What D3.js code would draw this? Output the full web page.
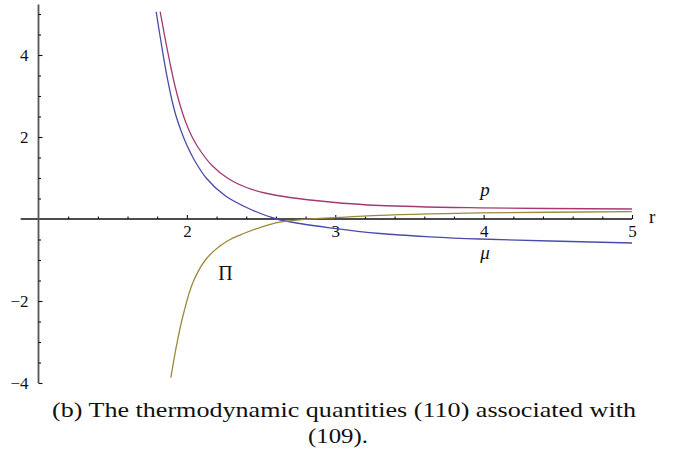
<!DOCTYPE html>
<html>
<head>
<meta charset="utf-8">
<script src="https://cdn.jsdelivr.net/npm/d3@7"></script>
<style>
  html, body { margin: 0; padding: 0; background: #fff; }
  svg { display: block; }
</style>
</head>
<body>
<svg id="chart" width="676" height="455"></svg>
<script>
// Radius samples and values of the three thermodynamic quantities
const rMu = [1.793, 1.818, 1.845, 1.872, 1.899, 1.926, 1.960, 1.998, 2.054, 2.133, 2.256, 2.424, 2.606, 2.761, 2.963, 3.300, 3.636, 3.973, 5.000];
const muVals = [5.056, 4.488, 3.902, 3.366, 2.902, 2.524, 2.159, 1.817, 1.415, 0.988, 0.573, 0.244, 0.000, -0.110, -0.215, -0.354, -0.434, -0.488, -0.585];

const rP = [1.820, 1.852, 1.886, 1.919, 1.953, 1.993, 2.034, 2.076, 2.166, 2.278, 2.402, 2.525, 2.694, 2.963, 3.300, 3.973, 5.000];
const pVals = [5.056, 4.427, 3.805, 3.256, 2.793, 2.354, 2.012, 1.744, 1.317, 0.988, 0.768, 0.634, 0.524, 0.415, 0.329, 0.273, 0.244];

const rPi = [1.892, 1.931, 1.975, 2.042, 2.133, 2.267, 2.391, 2.492, 2.626, 2.761, 3.030, 3.300, 3.636, 3.973, 5.000];
const piVals = [-3.871, -3.073, -2.341, -1.537, -0.963, -0.549, -0.341, -0.210, -0.078, -0.020, 0.039, 0.088, 0.124, 0.149, 0.178];

// Axis ticks
const xMajorTicks = [2, 3, 4, 5];
const xMinorTicks = d3.range(1.2, 5.0, 0.2).filter(v => Math.abs(v - Math.round(v)) > 1e-6);
const yMajorTicks = [-4, -2, 2, 4];
const yMinorTicks = d3.range(-3.5, 5.01, 0.5).filter(v => v % 2 !== 0);

const captionLines = ["(b) The thermodynamic quantities (110) associated with", "(109)."];

const SERIF = "Liberation Serif";

const svg = d3.select("#chart");

const x = d3.scaleLinear().domain([1, 5]).range([38.5, 632]);
const y = d3.scaleLinear().domain([-4, 5]).range([383, 14]);

// Axis lines
svg.append("line")
  .attr("x1", x(0.88)).attr("x2", x(5))
  .attr("y1", y(0)).attr("y2", y(0))
  .attr("stroke", "#111").attr("stroke-width", 1.4);
svg.append("line")
  .attr("x1", x(1)).attr("x2", x(1))
  .attr("y1", y(-4)).attr("y2", y(5.23))
  .attr("stroke", "#555").attr("stroke-width", 1.8);

function styleAxis(g) {
  g.select(".domain").remove();
  g.attr("font-family", SERIF).attr("font-size", 17);
  g.selectAll(".tick line").attr("stroke", "#111").attr("stroke-width", 1.1);
  g.selectAll(".tick text").attr("fill", "#111");
}

// X axis ticks (pointing up into the plot)
const xAxisMajor = d3.axisBottom(x).tickValues(xMajorTicks).tickSize(-4).tickPadding(6).tickFormat(d3.format("d"));
const xAxisMinor = d3.axisBottom(x).tickValues(xMinorTicks).tickSize(-2.5).tickFormat("");
svg.append("g").attr("transform", `translate(0,${y(0)})`).call(xAxisMinor).call(styleAxis);
svg.append("g").attr("transform", `translate(0,${y(0)})`).call(xAxisMajor).call(styleAxis);

// Y axis ticks (pointing right into the plot)
const yAxisMajor = d3.axisLeft(y).tickValues(yMajorTicks).tickSize(-4).tickPadding(10).tickFormat(d3.format("d"));
const yAxisMinor = d3.axisLeft(y).tickValues(yMinorTicks).tickSize(-2.5).tickFormat("");
svg.append("g").attr("transform", `translate(${x(1)},0)`).call(yAxisMinor).call(styleAxis);
svg.append("g").attr("transform", `translate(${x(1)},0)`).call(yAxisMajor).call(styleAxis);

function label(xp, yp, txt, size, italic, anchor) {
  return svg.append("text")
    .attr("x", xp).attr("y", yp)
    .attr("text-anchor", anchor || "start")
    .attr("fill", "#111")
    .attr("font-family", SERIF)
    .attr("font-size", size)
    .attr("font-style", italic ? "italic" : "normal")
    .text(txt);
}

// Axis name
label(x(5) + 17, y(0) + 4, "r", 19, false);

// Curves
svg.append("clipPath").attr("id", "plotclip")
  .append("rect").attr("x", x(1)).attr("y", y(5.07)).attr("width", x(5) - x(1) + 2).attr("height", y(-4) - y(5.07));

const series = [
  { r: rMu, v: muVals, color: "#4b4bad" },
  { r: rP, v: pVals, color: "#a33a72" },
  { r: rPi, v: piVals, color: "#9b8a3a" }
];

const line = d3.line().curve(d3.curveCatmullRom.alpha(0.5));
series.forEach(s => {
  svg.append("path")
    .attr("clip-path", "url(#plotclip)")
    .attr("d", line(s.r.map((r, i) => [x(r), y(s.v[i])])))
    .attr("fill", "none")
    .attr("stroke", s.color)
    .attr("stroke-width", 1.3);
});

// Curve labels
label(x(4.01), y(0.56), "p", 19, true, "middle");
label(x(4.01), y(-0.98), "μ", 19, true, "middle");
label(x(2.26), y(-1.48), "Π", 20, false, "middle");

// Caption
label(52, 417, captionLines[0], 21, false)
  .attr("textLength", 584).attr("lengthAdjust", "spacingAndGlyphs");
label(338, 443, captionLines[1], 21, false, "middle")
  .attr("textLength", 60).attr("lengthAdjust", "spacingAndGlyphs");
</script>
</body>
</html>
